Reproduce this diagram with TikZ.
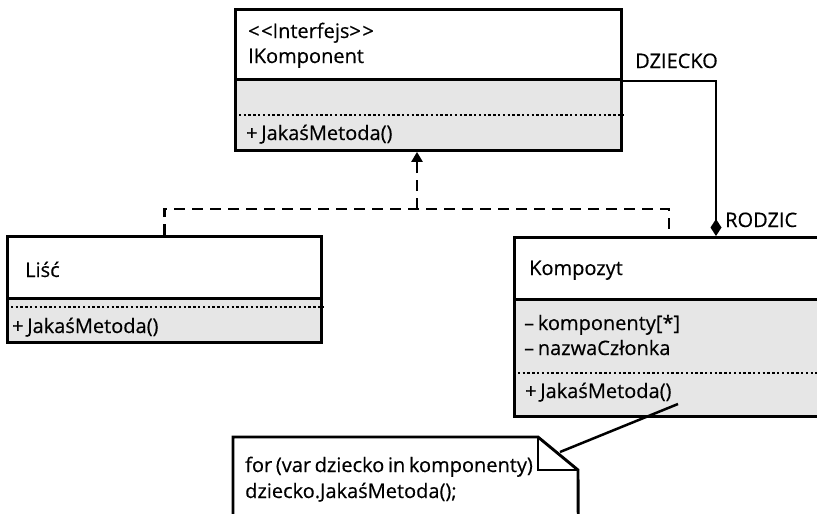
\documentclass[tikz,border=0pt]{standalone}
\usepackage{fontspec}
\newfontfamily\umlfont{Open Sans}[WordSpace=0.7, FakeBold=0.4]
\usetikzlibrary{arrows.meta}
\definecolor{compfill}{HTML}{E6E6E6}
\begin{document}
\begin{tikzpicture}[x=1pt,y=-1pt,
  every node/.style={font=\umlfont\fontsize{20}{24}\selectfont},
  box/.style={draw, line width=2.9pt, inner sep=0pt, anchor=north west},
  headbox/.style={box, fill=white},
  bodybox/.style={box, fill=compfill},
  sepline/.style={line width=2.4pt, dash pattern=on 2.4pt off 2.4pt},
  lbl/.style={anchor=base west, inner sep=0pt},
  realize/.style={line width=2.7pt, dash pattern=on 11pt off 7pt},
  assoc/.style={line width=2.5pt},
  notebox/.style={line width=2.9pt, fill=white, line join=miter}
]
\useasboundingbox (0,0) rectangle (817,514);
\clip (0,0) rectangle (817,514);

% interface IKomponent
\node[headbox, minimum width=386pt, minimum height=70pt] (ihead) at (234,8) {};
\node[bodybox, minimum width=386pt, minimum height=71pt] (ibody) at (234,78) {};
\draw[sepline] ([yshift=-37pt]ibody.north west) -- ([yshift=-37pt]ibody.north east);
\node[lbl] (istereo) at (248,38) {<\kern1.5pt<Interfejs>\kern1.5pt>};
\node[lbl] (iname) at (248,63) {IKomponent};
\node[lbl] (imeth) at (246,140) {+ JakaśMetoda()};

% leaf class
\node[headbox, minimum width=314pt, minimum height=62pt] (lhead) at (6,235) {};
\node[bodybox, minimum width=314pt, minimum height=44pt] (lbody) at (6,297) {};
\draw[sepline] ([yshift=-10pt]lbody.north west) -- ([yshift=-10pt]lbody.north east);
\node[lbl] (lname) at (25,277) {Liść};
\node[lbl] (lmeth) at (12,333) {+ JakaśMetoda()};

% composite class
\node[headbox, minimum width=330pt, minimum height=62pt] (khead) at (513,236) {};
\node[bodybox, minimum width=330pt, minimum height=117pt] (kbody) at (513,298) {};
\draw[sepline] ([yshift=-75pt]kbody.north west) -- ([yshift=-75pt]kbody.north east);
\node[lbl] (kname) at (529,275) {Kompozyt};
\node[lbl] (kattr1) at (524,330) {– komponenty[*]};
\node[lbl] (kattr2) at (524,355) {– nazwaCzłonka};
\node[lbl] (kmeth) at (525,398) {+ JakaśMetoda()};

% realization of the interface
\coordinate (join) at (417,209);
\coordinate (kin) at (669,236);
\draw[realize] (lhead.north) -- (lhead.north |- join) -- (kin |- join) -- (kin);
\draw[realize, -{Triangle[width=11pt,length=10pt]}] (join) -- (ibody.south -| join);

% composition: parent / child
\coordinate (kpar) at (716,236);
\draw[assoc, -{Diamond[width=11pt,length=17pt]}] (ihead.south east) -| (kpar);
\node[lbl] (child) at (635,68) {DZIECKO};
\node[lbl] (parent) at (725,227) {RODZIC};

% note with folded corner
\node[anchor=north west, inner sep=0pt, minimum width=345pt, minimum height=100pt] (note) at (233,437) {};
\draw[notebox] ([yshift=-20pt]note.south west) -- (note.north west) -- (538,437) -- (578,470) -- ([yshift=-20pt]note.south east);
\draw[notebox, fill=none] (538,437) -- (538,470) -- (578,470);
\node[lbl] (code1) at (245,472) {for (var dziecko in komponenty)};
\node[lbl] (code2) at (245,498) {dziecko.JakaśMetoda();};
\coordinate (mref) at (678,404);
\coordinate (nref) at (560,452);
\draw[assoc] (mref) -- (nref);
\end{tikzpicture}
\end{document}
